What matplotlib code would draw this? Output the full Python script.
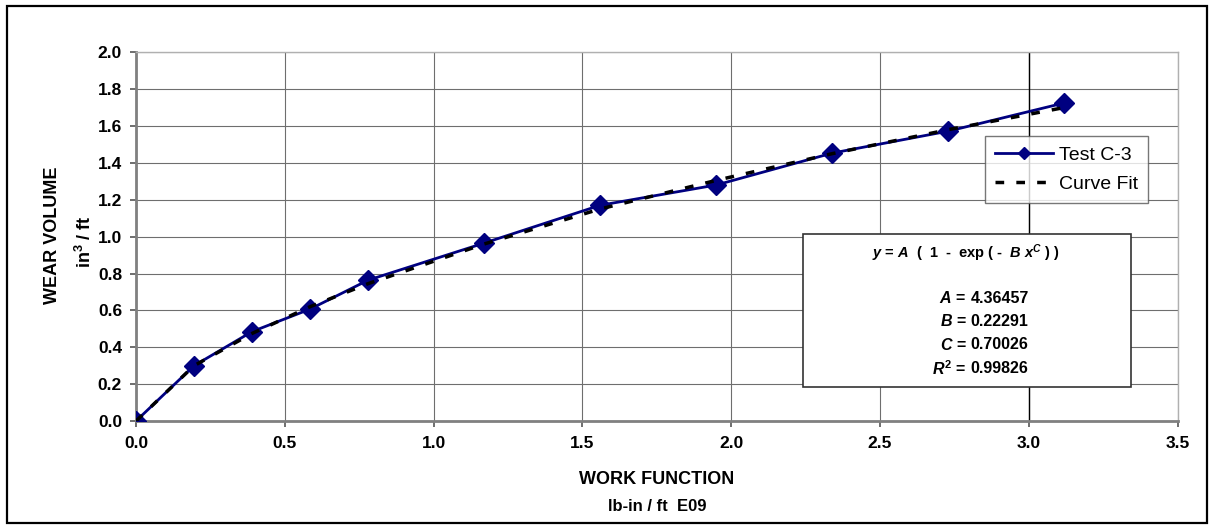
import matplotlib
matplotlib.use('Agg')
import matplotlib.pyplot as plt
from matplotlib.patches import Rectangle

plt.rcParams['font.family'] = ['Liberation Sans', 'DejaVu Sans']
plt.rcParams['mathtext.fontset'] = 'custom'
plt.rcParams['mathtext.it'] = 'Liberation Sans:italic:bold'
plt.rcParams['mathtext.rm'] = 'Liberation Sans:bold'
plt.rcParams['mathtext.bf'] = 'Liberation Sans:bold'

# data
work = [0.0, 0.195, 0.39, 0.585, 0.78, 1.17, 1.56, 1.95, 2.34, 2.73, 3.12]
wear = [0.0, 0.30, 0.485, 0.607, 0.764, 0.965, 1.17, 1.28, 1.453, 1.572, 1.725]
fit = [0.0, 0.30, 0.475, 0.62, 0.745, 0.96, 1.15, 1.305, 1.45, 1.58, 1.70]

x_ticks = [0.0, 0.5, 1.0, 1.5, 2.0, 2.5, 3.0, 3.5]
y_ticks = [0.0, 0.2, 0.4, 0.6, 0.8, 1.0, 1.2, 1.4, 1.6, 1.8, 2.0]

fit_names = [r'$\mathit{A}$', r'$\mathit{B}$', r'$\mathit{C}$', r'$\mathit{R}^{2}$']
fit_values = ['4.36457', '0.22291', '0.70026', '0.99826']

NAVY = '#000080'
GRID = '#6e6e6e'

fig = plt.figure(figsize=(12.14, 5.27), dpi=100, facecolor='white')
ax = fig.add_axes([0.112, 0.201, 0.858, 0.70])

# outer frame
fig.patches.append(Rectangle((0.006, 0.008), 0.988, 0.981, transform=fig.transFigure,
                             fill=False, edgecolor='black', linewidth=1.6))

ax.set_xlim(0, 3.5)
ax.set_ylim(0, 2.0)
ax.set_xticks(x_ticks)
ax.set_yticks(y_ticks)
ax.set_xticklabels([f'{v:.1f}' for v in x_ticks])
ax.set_yticklabels([f'{v:.1f}' for v in y_ticks])
ax.tick_params(labelsize=12.5, length=4, width=1.2, color='#555555')
ax.tick_params(axis='y', pad=6)
ax.tick_params(axis='x', pad=7)
for lab in ax.get_xticklabels() + ax.get_yticklabels():
    lab.set_fontweight('bold')

ax.grid(True, color=GRID, linewidth=0.8)
ax.set_axisbelow(True)
ax.axvline(3.0, color='black', linewidth=1.0, zorder=1)
for side in ['left', 'bottom']:
    ax.spines[side].set_color('#808080')
    ax.spines[side].set_linewidth(2)
for side in ['top', 'right']:
    ax.spines[side].set_color('#b0b0b0')
    ax.spines[side].set_linewidth(1)

ax.plot(work, wear, color=NAVY, linewidth=2, marker='D', markersize=10,
        label='Test C-3', zorder=3)
ax.plot(work, fit, color='black', linewidth=2.5, linestyle=(0, (2.5, 3.5)),
        label='Curve Fit', zorder=4)

leg = ax.legend(loc='upper left', bbox_to_anchor=(0.815, 0.772), fontsize=14,
                frameon=True, fancybox=False, edgecolor='#555555',
                handlelength=3.0, handletextpad=0.3, borderpad=0.5,
                labelspacing=0.6, borderaxespad=0)
leg.get_frame().set_linewidth(1)
for h in leg.legend_handles:
    if h.get_label() == 'Test C-3':
        h.set_markersize(6)

# equation box
ax.add_patch(Rectangle((2.243, 0.183), 1.1, 0.83, transform=ax.transData,
                       facecolor='white', edgecolor='#333333', linewidth=1.2, zorder=5))
ax.text(2.79, 0.91,
        r'$\mathit{y}$ = $\mathit{A}$  (  $\mathit{1}$  -  exp ( -  $\mathit{B}$ $\mathit{x}^{\mathit{C}}$ ) )',
        ha='center', va='center', fontsize=10.5, fontweight='bold', zorder=6)
for i, (name, val) in enumerate(zip(fit_names, fit_values)):
    yy = 0.667 - i * 0.127
    ax.text(2.79, yy, name + ' =', ha='right', va='center', fontsize=11.5,
            fontweight='bold', zorder=6)
    ax.text(2.805, yy, val, ha='left', va='center', fontsize=11.5,
            fontweight='bold', zorder=6)

fig.text(0.043, 0.554, 'WEAR VOLUME', rotation=90, ha='center', va='center',
         fontsize=13, fontweight='bold')
fig.text(0.07, 0.542, r'in$^{3}$ / ft', rotation=90, ha='center', va='center',
         fontsize=13, fontweight='bold')
fig.text(0.541, 0.091, 'WORK FUNCTION', ha='center', va='center',
         fontsize=13, fontweight='bold')
fig.text(0.541, 0.038, 'lb-in / ft  E09', ha='center', va='center',
         fontsize=12, fontweight='bold')

fig.savefig('out.png', dpi=100, facecolor='white')
